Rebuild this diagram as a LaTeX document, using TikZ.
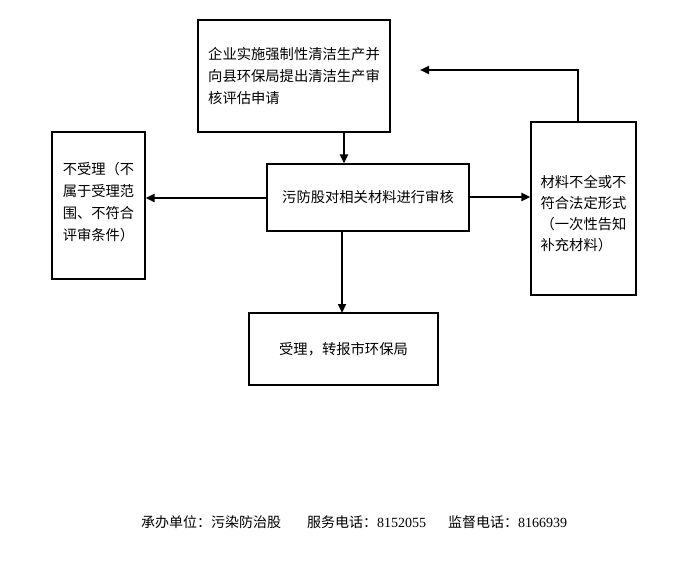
\documentclass[tikz,border=0pt]{standalone}
\usepackage{fontspec}
\setmainfont{Liberation Serif}
\newfontfamily\cjk{Noto Sans CJK SC}
\usetikzlibrary{arrows.meta}
\begin{document}
\begin{tikzpicture}[x=1pt,y=1pt,
  box/.style={draw,line width=1.1pt,inner sep=0pt},
  txt/.style={inner sep=0pt,font=\cjk\fontsize{14.3}{22}\selectfont,align=left},
  conn/.style={line width=2.2pt,-{Triangle[length=9pt,width=8pt]}}]
\useasboundingbox[fill=white] (0,0) rectangle (693,-570);
\node[box,minimum width=192,minimum height=112] (top) at (294,-76) {};
\node[txt] (toptext) at (294,-76) {企业实施强制性清洁生产并\\向县环保局提出清洁生产审\\核评估申请};
\node[box,minimum width=93,minimum height=147] (left) at (98.5,-205.5) {};
\node[txt] (lefttext) at (98.5,-202.5) {不受理（不\\属于受理范\\围、不符合\\评审条件）};
\node[box,minimum width=202,minimum height=67] (mid) at (368,-197.5) {};
\node[txt] (midtext) at (368,-197.5) {污防股对相关材料进行审核};
\node[box,minimum width=105,minimum height=173] (right) at (583.5,-208.5) {};
\node[txt,font=\cjk\fontsize{14.3}{21}\selectfont] (righttext) at (583.5,-214) {材料不全或不\\符合法定形式\\（一次性告知\\补充材料）};
\node[box,minimum width=189,minimum height=72] (bot) at (343.5,-349) {};
\node[txt] (bottext) at (343.5,-349) {受理，转报市环保局};
\coordinate (tmid) at (344,-132);
\coordinate (corner) at (578,-70);
\coordinate (back) at (420,-70);
\draw[conn] (tmid) -- (tmid |- mid.north);
\draw[conn] (mid.west |- 0,-198) -- (left.east |- 0,-198);
\draw[conn] (mid.east |- 0,-197) -- (right.west |- 0,-197);
\draw[conn] (342,-231) -- (342,-313);
\draw[line width=2.2pt] (right.north -| corner) -- (corner);
\draw[conn] ([xshift=1.1pt]corner) -- (back);
\node[anchor=base west,inner sep=0pt,font=\fontsize{14}{16}\selectfont] (foot) at (141,-527) {{\cjk 承办单位：污染防治股}\hspace{26pt}{\cjk 服务电话：}8152055\hspace{22pt}{\cjk 监督电话：}8166939};
\end{tikzpicture}
\end{document}
